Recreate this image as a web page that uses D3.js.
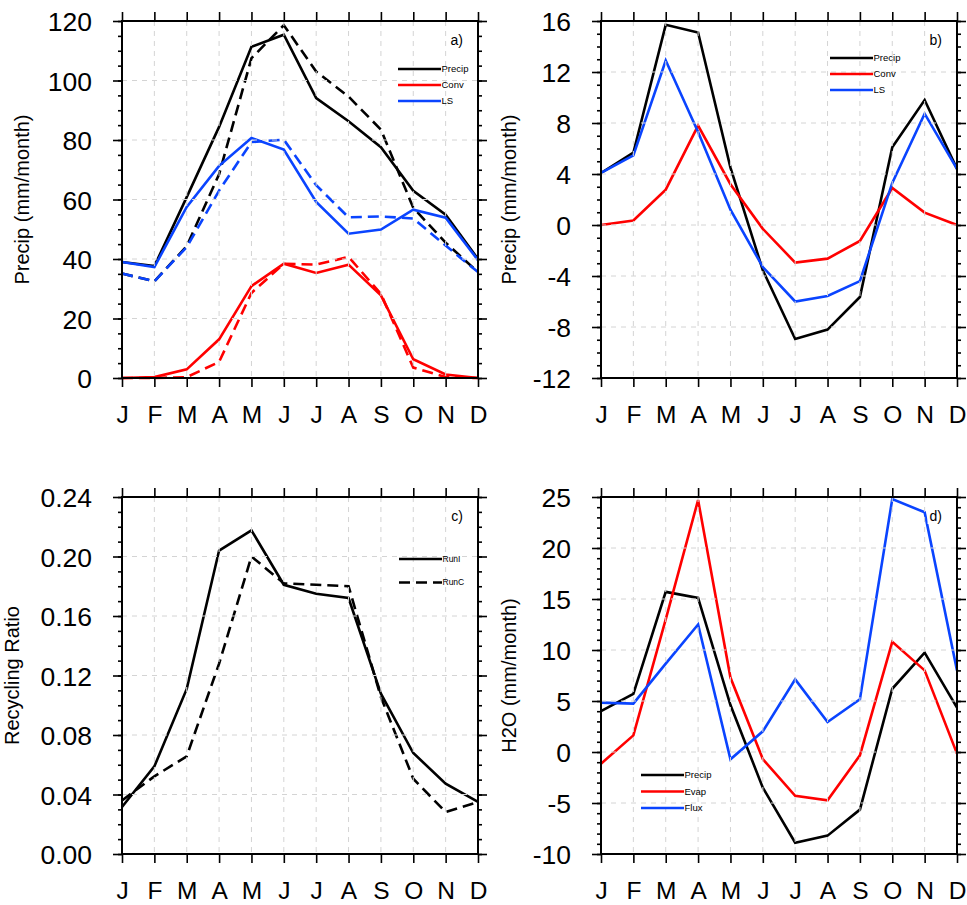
<!DOCTYPE html>
<html>
<head>
<meta charset="utf-8">
<script src="https://cdn.jsdelivr.net/npm/d3@7"></script>
<style>
  html, body { margin: 0; padding: 0; background: #fff; }
  svg { display: block; font-family: "Liberation Sans", Arial, Helvetica, sans-serif; }
</style>
</head>
<body>
<svg id="chart" width="967" height="905"></svg>
<script>
// ---------- data ----------
const months = ["J","F","M","A","M","J","J","A","S","O","N","D"];

// panel a (RunI solid, RunC dashed)
const aPrecipRunI = [39.0, 37.6, 60.8, 84.4, 111.3, 115.4, 94.1, 86.3, 77.6, 62.9, 54.9, 40.0];
const aConvRunI   = [0, 0.3, 2.9, 13.0, 30.9, 38.4, 35.3, 38.1, 27.8, 6.3, 1.2, 0];
const aLSRunI     = [39.0, 37.3, 57.5, 71.3, 80.7, 76.8, 59.2, 48.5, 49.9, 56.6, 53.9, 39.6];
const aPrecipRunC = [35.1, 32.5, 44.3, 68.5, 107.5, 118.6, 103.0, 94.6, 83.5, 57.2, 45.5, 35.6];
const aConvRunC   = [0, 0, 0.3, 5.4, 28.6, 38.4, 38.1, 40.7, 28.3, 3.5, 0.3, 0];
const aLSRunC     = [35.1, 32.5, 44.0, 63.0, 79.3, 80.1, 64.8, 54.0, 54.3, 53.6, 44.5, 35.6];
const aTicks = [0, 20, 40, 60, 80, 100, 120];

// panel b (differences)
const bPrecip = [4.08, 5.67, 15.7, 15.1, 4.5, -3.55, -8.94, -8.2, -5.65, 6.1, 9.8, 4.4];
const bConv   = [0, 0.35, 2.77, 7.8, 3.2, -0.3, -2.95, -2.64, -1.25, 2.9, 0.97, 0];
const bLS     = [4.08, 5.46, 12.9, 7.3, 1.2, -3.3, -6.0, -5.57, -4.4, 3.3, 8.73, 4.4];
const bTicks = [-12, -8, -4, 0, 4, 8, 12, 16];

// panel c (recycling ratio)
const cRunI = [0.0316, 0.0589, 0.111, 0.204, 0.2176, 0.181, 0.175, 0.1721, 0.1078, 0.0679, 0.0473, 0.035];
const cRunC = [0.036, 0.0522, 0.0657, 0.128, 0.200, 0.182, 0.181, 0.180, 0.1055, 0.0506, 0.0282, 0.035];
const cTicks = [0.00, 0.04, 0.08, 0.12, 0.16, 0.20, 0.24];

// panel d (H2O budget)
const dPrecip = [4.0, 5.7, 15.7, 15.1, 4.6, -3.5, -8.9, -8.2, -5.65, 6.2, 9.74, 4.35];
const dEvap   = [-1.15, 1.63, 13.0, 24.7, 7.3, -0.7, -4.3, -4.74, -0.33, 10.8, 8.0, -0.16];
const dFlux   = [4.84, 4.74, 8.66, 12.5, -0.72, 2.03, 7.12, 2.94, 5.16, 24.8, 23.5, 8.0];
const dTicks = [-10, -5, 0, 5, 10, 15, 20, 25];

// ---------- styling ----------
const BLACK = "#000000", RED = "#ff0000", BLUE = "#0a44ff";
const DASH = "11,6";

const svg = d3.select("#chart");

function drawPanel(p) {
  const g = svg.append("g");
  const x = d3.scalePoint().domain(d3.range(12)).range([p.left, p.right]);
  const y = d3.scaleLinear().domain(p.domain).range([p.bottom, p.top]);

  // data lines
  const line = d3.line().x((d, i) => x(i)).y(d => y(d));
  p.series.forEach(s => {
    g.append("path")
      .datum(s.values)
      .attr("d", line)
      .attr("fill", "none")
      .attr("stroke", s.color)
      .attr("stroke-width", 2.6)
      .attr("stroke-linejoin", "miter")
      .attr("stroke-dasharray", s.dash ? DASH : null);
  });

  // grid (drawn over the lines)
  const grid = g.append("g").attr("stroke", "#d4d4d4").attr("stroke-width", 1).attr("stroke-dasharray", "5,5");
  d3.range(1, 11).forEach(i => {
    grid.append("line").attr("x1", x(i)).attr("x2", x(i)).attr("y1", p.top).attr("y2", p.bottom);
  });
  p.ticks.slice(1, -1).forEach(v => {
    grid.append("line").attr("x1", p.left).attr("x2", p.right).attr("y1", y(v)).attr("y2", y(v));
  });

  // minor ticks
  const minors = d3.range(p.domain[0], p.domain[1] + p.minor / 2, p.minor).map(v => +v.toFixed(6));
  const styleAxis = sel => {
    sel.select(".domain").remove();
    sel.selectAll(".tick line").attr("stroke", "#000").attr("stroke-width", 1.6);
  };
  g.append("g").attr("transform", `translate(${p.left},0)`)
    .call(d3.axisLeft(y).tickValues(minors).tickSize(4).tickFormat(""))
    .call(styleAxis);
  g.append("g").attr("transform", `translate(${p.right},0)`)
    .call(d3.axisRight(y).tickValues(minors).tickSize(4).tickFormat(""))
    .call(styleAxis);

  // major y ticks + labels
  g.append("g").attr("transform", `translate(${p.left},0)`)
    .call(d3.axisLeft(y).tickValues(p.ticks).tickSize(9).tickFormat(p.fmt))
    .call(styleAxis)
    .call(s => s.selectAll(".tick text")
      .attr("x", -30).attr("dy", "0.36em")
      .attr("font-size", 26.5).attr("fill", "#000")
      .attr("font-family", "'Liberation Sans', Arial, Helvetica, sans-serif"));
  g.append("g").attr("transform", `translate(${p.right},0)`)
    .call(d3.axisRight(y).tickValues(p.ticks).tickSize(9).tickFormat(""))
    .call(styleAxis);

  // x ticks
  g.append("g").attr("transform", `translate(0,${p.bottom})`)
    .call(d3.axisBottom(x).tickSize(9).tickFormat(i => months[i]))
    .call(styleAxis)
    .call(s => s.selectAll(".tick text")
      .attr("y", 45).attr("dy", 0)
      .attr("font-size", 24.5).attr("fill", "#000")
      .attr("font-family", "'Liberation Sans', Arial, Helvetica, sans-serif"));
  g.append("g").attr("transform", `translate(0,${p.top})`)
    .call(d3.axisTop(x).tickSize(9).tickFormat(""))
    .call(styleAxis);

  // frame
  g.append("rect")
    .attr("x", p.left).attr("y", p.top)
    .attr("width", p.right - p.left).attr("height", p.bottom - p.top)
    .attr("fill", "none").attr("stroke", "#000").attr("stroke-width", 2);

  // y title
  g.append("text")
    .attr("transform", `translate(${p.titleX},${(p.top + p.bottom) / 2}) rotate(-90)`)
    .attr("text-anchor", "middle")
    .attr("font-size", 20)
    .text(p.title);

  // panel label with white background
  const lab = g.append("text")
    .attr("x", p.right - 15).attr("y", p.top + 24)
    .attr("text-anchor", "end").attr("font-size", 14)
    .text(p.label);
  const bb = lab.node().getBBox();
  g.insert("rect", () => lab.node())
    .attr("x", bb.x - 2).attr("y", bb.y).attr("width", bb.width + 4).attr("height", bb.height)
    .attr("fill", "#fff");

  // legend
  p.legend.items.forEach((it, k) => {
    const ly = p.legend.y + k * p.legend.dy;
    g.append("line")
      .attr("x1", p.legend.x).attr("x2", p.legend.x + 43)
      .attr("y1", ly).attr("y2", ly)
      .attr("stroke", it.color).attr("stroke-width", 2.6)
      .attr("stroke-dasharray", it.dash ? DASH : null);
    g.append("text")
      .attr("x", p.legend.x + 43.5).attr("y", ly)
      .attr("dy", "0.35em")
      .attr("font-size", p.legend.fs)
      .text(it.name);
  });
}

drawPanel({
  left: 122, right: 478, top: 21, bottom: 378,
  domain: [0, 120], ticks: aTicks, minor: 5, fmt: d => String(d),
  title: "Precip (mm/month)", titleX: 29, label: "a)",
  series: [
    { values: aPrecipRunI, color: BLACK },
    { values: aPrecipRunC, color: BLACK, dash: true },
    { values: aConvRunI, color: RED },
    { values: aConvRunC, color: RED, dash: true },
    { values: aLSRunI, color: BLUE },
    { values: aLSRunC, color: BLUE, dash: true }
  ],
  legend: { x: 398, y: 69, dy: 16, fs: 9.5, items: [
    { name: "Precip", color: BLACK }, { name: "Conv", color: RED }, { name: "LS", color: BLUE }] }
});

drawPanel({
  left: 601, right: 957, top: 21, bottom: 378,
  domain: [-12, 16], ticks: bTicks, minor: 1, fmt: d => String(d),
  title: "Precip (mm/month)", titleX: 516, label: "b)",
  series: [
    { values: bPrecip, color: BLACK },
    { values: bConv, color: RED },
    { values: bLS, color: BLUE }
  ],
  legend: { x: 830, y: 58, dy: 16, fs: 9.5, items: [
    { name: "Precip", color: BLACK }, { name: "Conv", color: RED }, { name: "LS", color: BLUE }] }
});

drawPanel({
  left: 122, right: 478, top: 497, bottom: 854,
  domain: [0, 0.24], ticks: cTicks, minor: 0.01, fmt: d => d.toFixed(2),
  title: "Recycling Ratio", titleX: 19, label: "c)",
  series: [
    { values: cRunI, color: BLACK },
    { values: cRunC, color: BLACK, dash: true }
  ],
  legend: { x: 399, y: 559, dy: 23.5, fs: 8.5, items: [
    { name: "RunI", color: BLACK }, { name: "RunC", color: BLACK, dash: true }] }
});

drawPanel({
  left: 601, right: 957, top: 497, bottom: 854,
  domain: [-10, 25], ticks: dTicks, minor: 1, fmt: d => String(d),
  title: "H2O (mm/month)", titleX: 516, label: "d)",
  series: [
    { values: dPrecip, color: BLACK },
    { values: dEvap, color: RED },
    { values: dFlux, color: BLUE }
  ],
  legend: { x: 641, y: 775, dy: 16.5, fs: 9.5, items: [
    { name: "Precip", color: BLACK }, { name: "Evap", color: RED }, { name: "Flux", color: BLUE }] }
});
</script>
</body>
</html>
